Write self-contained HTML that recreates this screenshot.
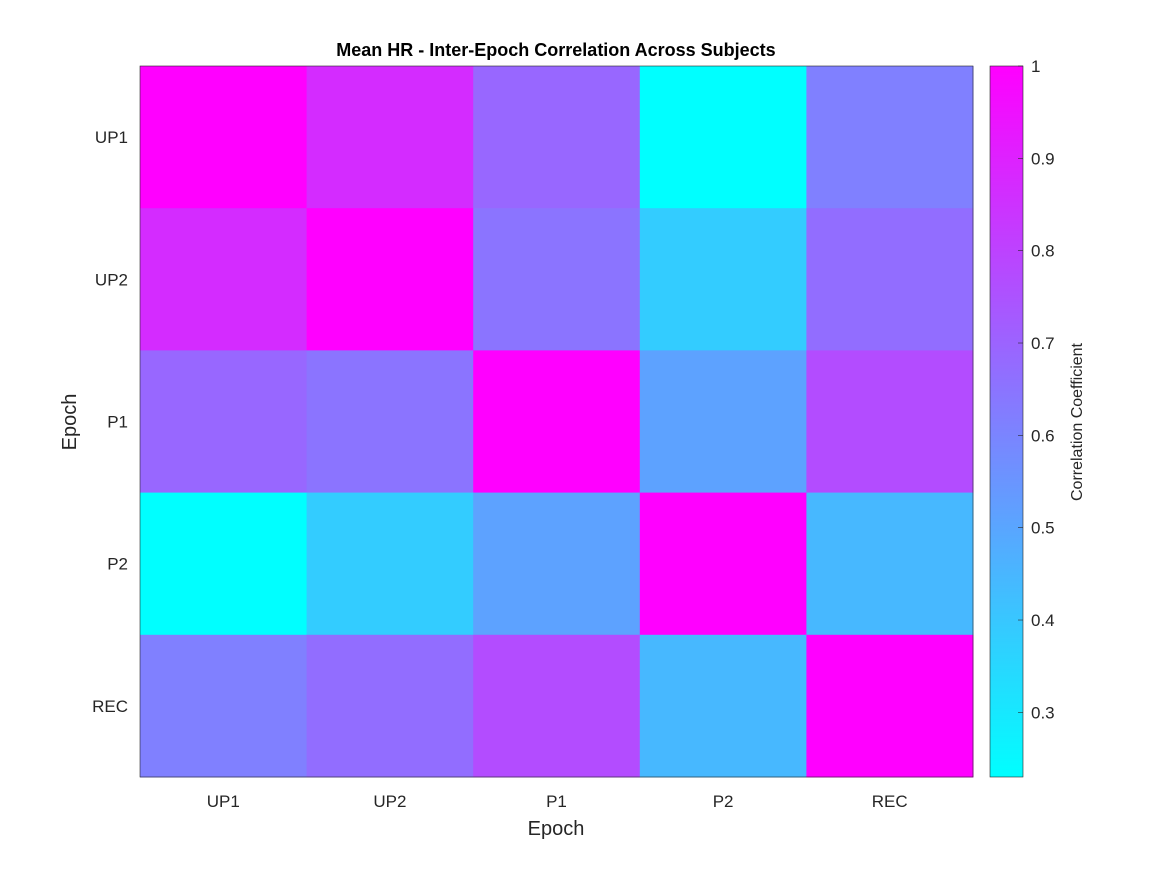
<!DOCTYPE html>
<html><head><meta charset="utf-8"><style>
body{margin:0;background:#fff;font-family:"Liberation Sans",sans-serif;}
svg{display:block}
</style></head><body>
<svg id="chart" width="1167" height="875" viewBox="0 0 1167 875">
<rect width="1167" height="875" fill="#fff"/>
<text x="556" y="56" text-anchor="middle" font-size="18" font-weight="bold" fill="#000">Mean HR - Inter-Epoch Correlation Across Subjects</text>
<g id="cells"></g>
<g id="axes"></g>
<g id="cbar"></g>
<text x="556" y="835" text-anchor="middle" font-size="20" fill="#262626">Epoch</text>
<text transform="translate(76,422) rotate(-90)" text-anchor="middle" font-size="20" fill="#262626">Epoch</text>
<text transform="translate(1082,422) rotate(-90)" text-anchor="middle" font-size="16" fill="#262626">Correlation Coefficient</text>
</svg>
<script>
const categories = ["UP1","UP2","P1","P2","REC"];
const row0 = [1.00, 0.87, 0.69, 0.23, 0.615];
const row1 = [0.87, 1.00, 0.65, 0.385, 0.67];
const row2 = [0.69, 0.65, 1.00, 0.51, 0.77];
const row3 = [0.23, 0.385, 0.51, 1.00, 0.445];
const row4 = [0.615, 0.67, 0.77, 0.445, 1.00];
const matrix = [row0,row1,row2,row3,row4];
const cbarTicks = [0.3,0.4,0.5,0.6,0.7,0.8,0.9,1];
const NS="http://www.w3.org/2000/svg";
const X0=140,X1=973,Y0=66,Y1=777;
const all=matrix.flat();
const vmin=Math.min(...all), vmax=Math.max(...all);
const n=categories.length;
const cw=(X1-X0)/n, ch=(Y1-Y0)/n;
function color(v){const t=Math.max(0,Math.min(1,(v-vmin)/(vmax-vmin)));return `rgb(${Math.round(255*t)},${Math.round(255*(1-t))},255)`;}
function mk(tag,attrs,parent){const e=document.createElementNS(NS,tag);for(const k in attrs)e.setAttribute(k,attrs[k]);parent.appendChild(e);return e;}
const cells=document.getElementById('cells');
matrix.forEach((row,i)=>row.forEach((v,j)=>{
 const r=mk('rect',{x:X0+j*cw,y:Y0+i*ch,width:cw+0.5,height:ch+0.5,fill:color(v)},cells);
 
 
}));
const axes=document.getElementById('axes');
mk('rect',{x:X0,y:Y0,width:X1-X0,height:Y1-Y0,fill:'none',stroke:'#262626','stroke-width':0.6},axes);
categories.forEach((c,k)=>{
 const xt=mk('text',{x:X0+(k+0.5)*cw,y:Y1+30,'text-anchor':'middle','font-size':17,fill:'#262626'},axes);
 xt.textContent=c;
 
 
 const yt=mk('text',{x:X0-12,y:Y0+(k+0.5)*ch+6,'text-anchor':'end','font-size':17,fill:'#262626'},axes);
 yt.textContent=c;
 
 
});
const cb=document.getElementById('cbar');
const CX0=990,CX1=1023;
const g=mk('linearGradient',{id:'cg',x1:0,y1:1,x2:0,y2:0},mk('defs',{},cb));
mk('stop',{offset:0,'stop-color':'rgb(0,255,255)'},g);
mk('stop',{offset:1,'stop-color':'rgb(255,0,255)'},g);
const cr=mk('rect',{x:CX0,y:Y0,width:CX1-CX0,height:Y1-Y0,fill:'url(#cg)',stroke:'#262626','stroke-width':0.6},cb);


function cy(v){return Y1-(v-vmin)/(vmax-vmin)*(Y1-Y0);}
cbarTicks.forEach(v=>{
 const y=cy(v);
 mk('line',{x1:CX1-5,x2:CX1,y1:y,y2:y,stroke:'#262626','stroke-width':0.6},cb);
 const t=mk('text',{x:CX1+8,y:y+6,'font-size':17,fill:'#262626'},cb);
 t.textContent=String(v);
 
 
});
</script>
</body></html>
